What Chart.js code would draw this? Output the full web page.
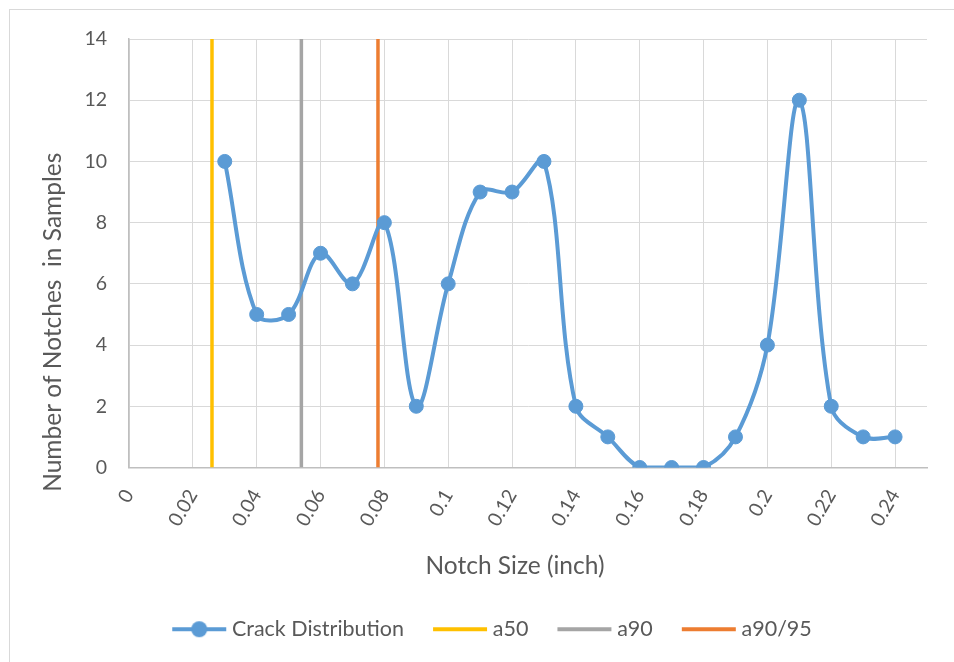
<!DOCTYPE html>
<html>
<head>
<meta charset="utf-8">
<title>Crack Distribution</title>
<script src="https://cdn.jsdelivr.net/npm/chart.js@4.4.1/dist/chart.umd.min.js"></script>
<style>
html, body { margin: 0; padding: 0; background: #fff; overflow: hidden; }
#wrap { position: relative; width: 954px; height: 662px; }
#wrap canvas { position: absolute; left: 0; top: 0; }
#frame { position: absolute; left: 9px; top: 9px; width: 980px; height: 700px; border: 1px solid #d9d9d9; pointer-events: none; }
</style>
</head>
<body>
<div id="wrap">
	<canvas id="chart" width="954" height="662"></canvas>
	<div id="frame"></div>
</div>
<script>
// values
var notchSizes = [0.03, 0.04, 0.05, 0.06, 0.07, 0.08, 0.09, 0.10, 0.11, 0.12, 0.13,
	0.14, 0.15, 0.16, 0.17, 0.18, 0.19, 0.20, 0.21, 0.22, 0.23, 0.24];
var crackCounts = [10, 5, 5, 7, 6, 8, 2, 6, 9, 9, 10, 2, 1, 0, 0, 0, 1, 4, 12, 2, 1, 1];

var limitNames = ['a50', 'a90', 'a90/95'];
var limitSizes = [0.026, 0.054, 0.078];
var limitColors = ['#FFC000', '#A5A5A5', '#ED7D31'];

var xRange = [0, 0.25];
var xStep = 0.02;
var yRange = [0, 14];
var yStep = 2;

var xTitle = 'Notch Size (inch)';
var yTitle = 'Number of Notches  in Samples';

var textColor = '#595959';
var fontName = 'Lato, "Open Sans", sans-serif';

// little canvases used as legend symbols (line, or line with a dot)
function legendSymbol(color, withDot) {
	var c = document.createElement('canvas');
	c.width = 56;
	c.height = 20;
	var g = c.getContext('2d');
	g.strokeStyle = color;
	g.lineWidth = 4;
	g.beginPath();
	g.moveTo(1, 10);
	g.lineTo(55, 10);
	g.stroke();
	if (withDot) {
		g.fillStyle = color;
		g.beginPath();
		g.arc(28, 10, 8, 0, Math.PI * 2);
		g.fill();
	}
	return c;
}

var datasets = [];
var symbols = [];

datasets.push({
	label: 'Crack Distribution',
	data: notchSizes.map(function (x, i) { return {x: x, y: crackCounts[i]}; }),
	borderColor: '#5B9BD5',
	backgroundColor: '#5B9BD5',
	borderWidth: 4,
	pointRadius: 7,
	pointBorderWidth: 1,
	tension: 0.35,
	order: 0
});
symbols.push(legendSymbol('#5B9BD5', true));

for (var i = 0; i < limitNames.length; i++) {
	datasets.push({
		label: limitNames[i],
		data: [{x: limitSizes[i], y: yRange[0]}, {x: limitSizes[i], y: yRange[1]}],
		borderColor: limitColors[i],
		backgroundColor: limitColors[i],
		borderWidth: 3.5,
		pointRadius: 0,
		order: 1
	});
	symbols.push(legendSymbol(limitColors[i], false));
}

// axis titles drawn by hand so they sit where excel put them
var axisTitles = {
	id: 'axisTitles',
	afterLayout: function (chart) {
		// excel's legend row sits a bit right of the page centre
		chart.legend.left += 31;
		chart.legend.right += 31;
	},
	afterDraw: function (chart) {
		var ctx = chart.ctx;
		var area = chart.chartArea;
		ctx.save();
		ctx.fillStyle = textColor;
		ctx.font = '24.5px ' + fontName;
		ctx.textAlign = 'center';
		ctx.textBaseline = 'middle';
		ctx.fillText(xTitle, (area.left + area.right) / 2 - 13, area.bottom + 99);
		ctx.translate(53, (area.top + area.bottom) / 2 + 69);
		ctx.rotate(-Math.PI / 2);
		ctx.fillText(yTitle, 0, 0);
		ctx.restore();
	}
};

var ctx = document.getElementById('chart').getContext('2d');
var chart = new Chart(ctx, {
	type: 'line',
	data: {datasets: datasets},
	plugins: [axisTitles],
	options: {
		responsive: false,
		animation: false,
		layout: {padding: {top: 39, right: 27, left: 0, bottom: 12}},
		plugins: {
			tooltip: {enabled: false},
			legend: {
				position: 'bottom',
				labels: {
					usePointStyle: true,
					pointStyleWidth: 44,
					boxWidth: 44,
					padding: 34,
					color: textColor,
					font: {family: fontName, size: 21.5},
					generateLabels: function (chart) {
						var items = Chart.defaults.plugins.legend.labels.generateLabels(chart);
						items.forEach(function (it) { it.pointStyle = symbols[it.datasetIndex]; });
						return items;
					}
				}
			}
		},
		scales: {
			x: {
				type: 'linear',
				min: xRange[0],
				max: xRange[1],
				afterFit: function (scale) { scale.height = 117; },
				afterBuildTicks: function (scale) {
					scale.ticks = scale.ticks.filter(function (t) { return t.value <= 0.2401; });
				},
				grid: {color: '#d9d9d9', drawTicks: false},
				border: {color: '#bfbfbf', width: 1.5},
				ticks: {
					stepSize: xStep,
					minRotation: 60,
					maxRotation: 60,
					padding: 18,
					color: textColor,
					font: {family: fontName, size: 19.5},
					callback: function (v) { return String(+v.toFixed(2)); }
				}
			},
			y: {
				min: yRange[0],
				max: yRange[1],
				afterFit: function (scale) { scale.width = 129; },
				grid: {color: '#d9d9d9', drawTicks: false},
				border: {color: '#bfbfbf', width: 1.5},
				ticks: {
					stepSize: yStep,
					padding: 22,
					color: textColor,
					font: {family: fontName, size: 19.5}
				}
			}
		}
	}
});
</script>
</body>
</html>
